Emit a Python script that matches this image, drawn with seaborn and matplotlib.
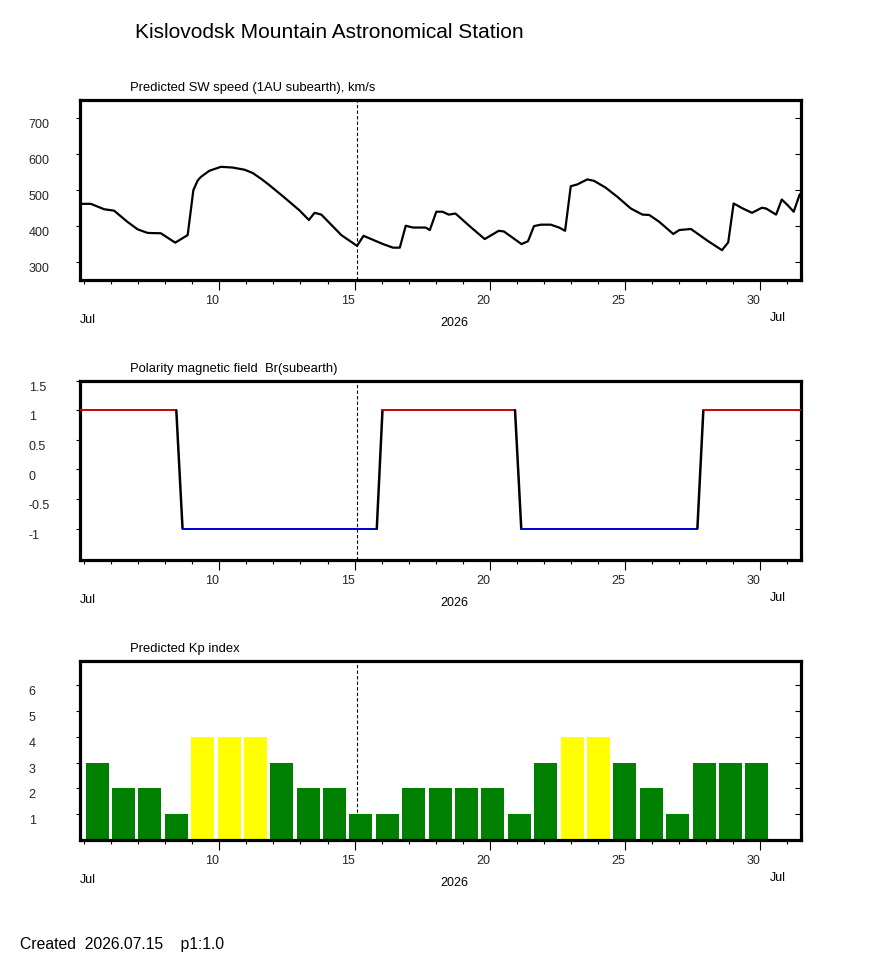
#!/usr/bin/env python
# Kislovodsk forecast panels: SW speed, IMF polarity, Kp index

import numpy as np
import matplotlib
matplotlib.use('Agg')
import matplotlib.pyplot as plt
import matplotlib.transforms as mtransforms
import seaborn as sns

# predicted solar wind speed, km/s (day of July 2026)
sw_day = [4.85, 5.25, 5.74, 6.11, 6.6, 6.98, 7.35, 7.84, 8.37, 8.83, 9.04, 9.2, 9.32, 9.63,
          10.06, 10.49, 10.93, 11.23, 11.54, 11.85, 12.35, 12.96, 13.31, 13.52, 13.77, 14.51,
          15.09, 15.33, 16.05, 16.42, 16.67, 16.89, 17.16, 17.63, 17.78, 18.02, 18.25, 18.48,
          18.73, 19.28, 19.81, 20.33, 20.52, 21.17, 21.41, 21.63, 21.88, 22.25, 22.56, 22.78,
          22.99, 23.23, 23.6, 23.85, 24.28, 24.72, 25.21, 25.64, 25.89, 26.26, 26.78, 27.0,
          27.43, 28.05, 28.58, 28.81, 29.01, 29.35, 29.69, 30.05, 30.21, 30.58, 30.79, 31.01,
          31.23, 31.44, 31.5]
sw_speed = [462, 462, 447, 443, 412, 391, 381, 380, 354, 375, 500, 527, 537, 554,
            565, 563, 557, 548, 532, 514, 483, 444, 417, 437, 432, 375,
            345, 373, 350, 340, 340, 401, 396, 396, 389, 440, 440, 432,
            435, 398, 364, 387, 385, 350, 358, 400, 404, 404, 396, 387,
            511, 516, 530, 526, 507, 481, 449, 432, 431, 412, 378, 389,
            392, 359, 333, 355, 463, 449, 437, 451, 449, 432, 474, 458,
            440, 486, 492]

# polarity of Br (subearth)
pol_day = [4.85, 8.41, 8.64, 15.82, 16.03, 20.93, 21.16, 27.67, 27.89, 31.5]
pol_val = [1, 1, -1, -1, 1, 1, -1, -1, 1, 1]

# predicted Kp index
kp_day = [5.51, 6.47, 7.43, 8.43, 9.39, 10.39, 11.35, 12.31, 13.31, 14.27, 15.23, 16.22, 17.19,
          18.18, 19.14, 20.10, 21.10, 22.06, 23.06, 24.02, 24.98, 25.98, 26.94, 27.94, 28.90, 29.86]
kp_val = [3, 2, 2, 1, 4, 4, 4, 3, 2, 2, 1, 1, 2, 2, 2, 2, 1, 3, 4, 4, 3, 2, 1, 3, 3, 3]

now_day = 15.08
major_days = [10, 15, 20, 25, 30]
minor_days = list(range(5, 32))

sns.set_theme(style='white')
plt.rcParams['font.family'] = ['Liberation Sans', 'DejaVu Sans']
plt.rcParams['text.color'] = 'black'

fig = plt.figure(figsize=(8.7, 9.65), dpi=100)

left, width = 80 / 870, 721 / 870
panels = [
    (1 - 280 / 965, 180 / 965),
    (1 - 560 / 965, 179.3 / 965),
    (1 - 840 / 965, 179.3 / 965),
]
axes = [fig.add_axes([left, b, width, h]) for b, h in panels]


def style_axis(ax, yticks, yticklabels, ylim, title):
    ax.set_xlim(4.85, 31.5)
    ax.set_ylim(*ylim)
    for sp in ax.spines.values():
        sp.set_linewidth(2.3)
        sp.set_color('black')
        sp.set_visible(True)
    ax.set_xticks(major_days)
    ax.set_xticks(minor_days, minor=True)
    ax.set_xticklabels([str(d) for d in major_days], fontsize=9, ha='right')
    ax.tick_params(axis='x', which='major', length=7, width=0.8, color='black',
                   direction='out', bottom=True, pad=3.5)
    ax.tick_params(axis='x', which='minor', length=3, width=0.8, color='black',
                   direction='out', bottom=True)
    ax.set_yticks(yticks)
    ax.set_yticklabels(yticklabels, fontsize=9, ha='left')
    ax.tick_params(axis='y', which='major', length=3, width=0.8, color='black',
                   direction='out', left=True, pad=34)
    off = mtransforms.ScaledTranslation(0, -4 / 72, fig.dpi_scale_trans)
    for lab in ax.get_yticklabels():
        lab.set_transform(lab.get_transform() + off)
    # inner ticks on the right side
    sec = ax.secondary_yaxis('right')
    sec.set_yticks(yticks)
    sec.set_yticklabels([])
    sec.tick_params(direction='in', length=4, width=0.8, color='black')
    sec.spines['right'].set_visible(False)
    ax.grid(False)
    ax.set_xlabel('')
    ax.set_ylabel('')
    ax.axvline(now_day, color='black', lw=0.8, ls=(0, (3, 2)), zorder=1)
    ax.annotate(title, xy=(0, 1), xycoords='axes fraction', xytext=(36, 8.5),
                textcoords='offset points', fontsize=9.4, ha='left', va='center')
    ax.annotate('Jul', xy=(0, 0), xycoords='axes fraction', xytext=(0, -28.5),
                textcoords='offset points', fontsize=9, ha='left', va='center')
    ax.annotate('2026', xy=(0.519, 0), xycoords='axes fraction', xytext=(0, -31),
                textcoords='offset points', fontsize=9, ha='center', va='center')
    ax.annotate('Jul', xy=(690 / 721, 0), xycoords='axes fraction', xytext=(0, -27.5),
                textcoords='offset points', fontsize=9, ha='left', va='center')


# panel 1: solar wind speed
ax = axes[0]
sns.lineplot(x=sw_day, y=sw_speed, sort=False, estimator=None, color='black',
             lw=1.6, ax=ax, zorder=3)
style_axis(ax, [300, 400, 500, 600, 700], ['300', '400', '500', '600', '700'],
           (250, 751), 'Predicted SW speed (1AU subearth), km/s')

# panel 2: polarity
ax = axes[1]
for i in range(len(pol_day) - 1):
    x0, x1 = pol_day[i], pol_day[i + 1]
    y0, y1 = pol_val[i], pol_val[i + 1]
    if y0 == y1:
        c = '#cc0000' if y0 > 0 else '#0000cc'
        lw = 1.4
    else:
        c = 'black'
        lw = 1.8
    sns.lineplot(x=[x0, x1], y=[y0, y1], sort=False, estimator=None, color=c,
                 lw=lw, ax=ax, zorder=3)
style_axis(ax, [-1, -0.5, 0, 0.5, 1, 1.5], ['-1', '-0.5', '0', '0.5', '1', '1.5'],
           (-1.53, 1.5), 'Polarity magnetic field  Br(subearth)')

# panel 3: Kp index
ax = axes[2]
kp_colors = ['#ffff00' if v >= 4 else '#008000' for v in kp_val]
ax.bar(kp_day, kp_val, width=0.85, color=kp_colors, edgecolor='none', zorder=2)
style_axis(ax, [1, 2, 3, 4, 5, 6], ['1', '2', '3', '4', '5', '6'],
           (0, 6.95), 'Predicted Kp index')

fig.text(135 / 870, 1 - 32 / 965, 'Kislovodsk Mountain Astronomical Station',
         fontsize=15, ha='left', va='center')
fig.text(20 / 870, 1 - 944 / 965, 'Created  2026.07.15    p1:1.0',
         fontsize=11.3, ha='left', va='center')

fig.savefig('out.png', dpi=100)
